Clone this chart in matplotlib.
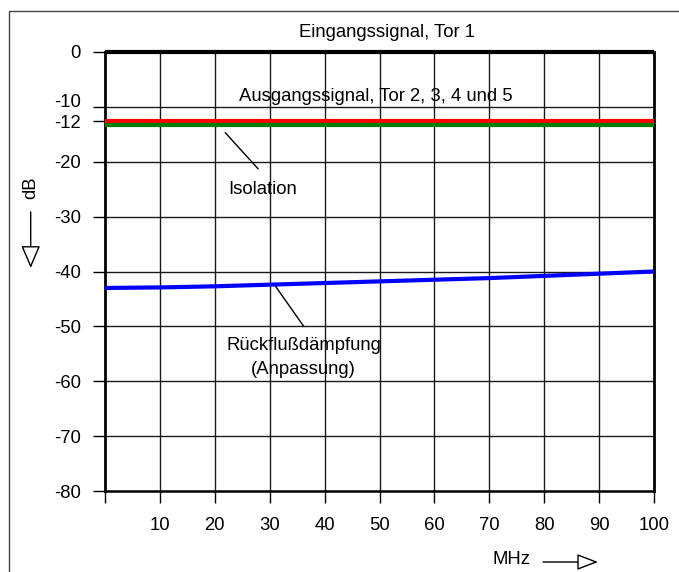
import matplotlib
matplotlib.use("Agg")
import matplotlib.pyplot as plt
from matplotlib.patches import Rectangle, FancyArrowPatch
from matplotlib.transforms import ScaledTranslation

plt.rcParams['font.family'] = ['Liberation Sans', 'DejaVu Sans']

# Data
freq_mhz = [0, 10, 20, 30, 40, 50, 60, 70, 80, 90, 100]
rueckfluss_db = [-43.0, -42.9, -42.7, -42.4, -42.1, -41.8, -41.5, -41.2, -40.8, -40.4, -40.0]
eingang_db = [0.0] * 11
ausgang_db = [-12.6] * 11
isolation_db = [-13.3] * 11

yticks = [0, -10, -12.6, -20, -30, -40, -50, -60, -70, -80]
ytick_labels = ['0', '-10', '-12', '-20', '-30', '-40', '-50', '-60', '-70', '-80']
xticks = [0, 10, 20, 30, 40, 50, 60, 70, 80, 90, 100]
xtick_labels = ['', '10', '20', '30', '40', '50', '60', '70', '80', '90', '100']

W, H = 679, 572
fig = plt.figure(figsize=(W / 100, H / 100), dpi=100)
ax = fig.add_axes([105 / W, 1 - 491 / H, (654 - 105) / W, (491 - 52) / H])

# grid
for xv in xticks[1:-1]:
    ax.axvline(xv, color='#1a1a1a', lw=1.0, zorder=1)
for yv in [-10, -20, -30, -40, -50, -60, -70]:
    ax.axhline(yv, color='#1a1a1a', lw=1.0, zorder=1)

ax.plot(freq_mhz, eingang_db, color='black', lw=3.0, zorder=4, clip_on=False, solid_capstyle='butt')
ax.plot(freq_mhz, ausgang_db, color='#ff0000', lw=3.0, zorder=3, solid_capstyle='butt')
ax.plot(freq_mhz, isolation_db, color='#008000', lw=3.0, zorder=3, solid_capstyle='butt')
ax.plot(freq_mhz, rueckfluss_db, color='#0000ff', lw=3.0, zorder=3, solid_capstyle='butt')

fs = 13.3
ax.set_xlim(0, 100)
ax.set_ylim(-80, 0)
ax.set_xticks(xticks)
ax.set_xticklabels(xtick_labels)
ax.set_yticks(yticks)
ax.set_yticklabels(ytick_labels)
ax.tick_params(axis='both', direction='out', length=8.5, width=1.0, color='black', labelsize=fs)
ax.tick_params(axis='x', pad=10)
ax.tick_params(axis='y', pad=9)
# the -10 label sits slightly above its line
for lab in ax.get_yticklabels():
    if lab.get_text() == '-10':
        lab.set_transform(lab.get_transform() + ScaledTranslation(0, 6 / 100, fig.dpi_scale_trans))
for s in ['left', 'right']:
    ax.spines[s].set_linewidth(2.0)
ax.spines['bottom'].set_linewidth(1.8)
ax.spines['top'].set_visible(False)

ax.text(51.4, 3.6, 'Eingangssignal, Tor 1', ha='center', va='center', fontsize=fs, clip_on=False)
ax.text(24.4, -8.1, 'Ausgangssignal, Tor 2, 3, 4 und 5', ha='left', va='center', fontsize=fs)
ax.text(28.8, -25.0, 'Isolation', ha='center', va='center', fontsize=fs)
ax.annotate('', xy=(21.9, -14.7), xytext=(27.9, -21.3),
            arrowprops=dict(arrowstyle='-', color='black', lw=1.0, shrinkA=0, shrinkB=0))
ax.text(36.2, -53.4, 'Rückflußdämpfung', ha='center', va='center', fontsize=fs)
ax.text(36.2, -57.8, '(Anpassung)', ha='center', va='center', fontsize=fs)
ax.annotate('', xy=(31.1, -42.75), xytext=(36.2, -50.0),
            arrowprops=dict(arrowstyle='-', color='black', lw=1.0, shrinkA=0, shrinkB=0))

# axis unit labels with open arrows
fig.text(30.5 / W, 1 - 188 / H, 'dB', rotation=90, ha='center', va='center', fontsize=fs)
fig.add_artist(FancyArrowPatch((30.7 / W, 1 - 212 / H), (30.7 / W, 1 - 268 / H),
                               transform=fig.transFigure,
                               arrowstyle='-|>,head_length=7,head_width=3',
                               mutation_scale=2, lw=1.0, color='black', fc='white',
                               shrinkA=0, shrinkB=0))
fig.text(511 / W, 1 - 560 / H, 'MHz', ha='center', va='center', fontsize=fs)
fig.add_artist(FancyArrowPatch((543 / W, 1 - 562 / H), (598 / W, 1 - 562 / H),
                               transform=fig.transFigure,
                               arrowstyle='-|>,head_length=6.5,head_width=2.5',
                               mutation_scale=2, lw=1.0, color='black', fc='white',
                               shrinkA=0, shrinkB=0))

# outer frame (top and left visible)
fig.add_artist(Rectangle((8.5 / W, -0.05), 1.2, 1 - 10.5 / H + 0.05, transform=fig.transFigure,
                         fill=False, ec='#444444', lw=1.0))

fig.savefig('out.png', dpi=100)
